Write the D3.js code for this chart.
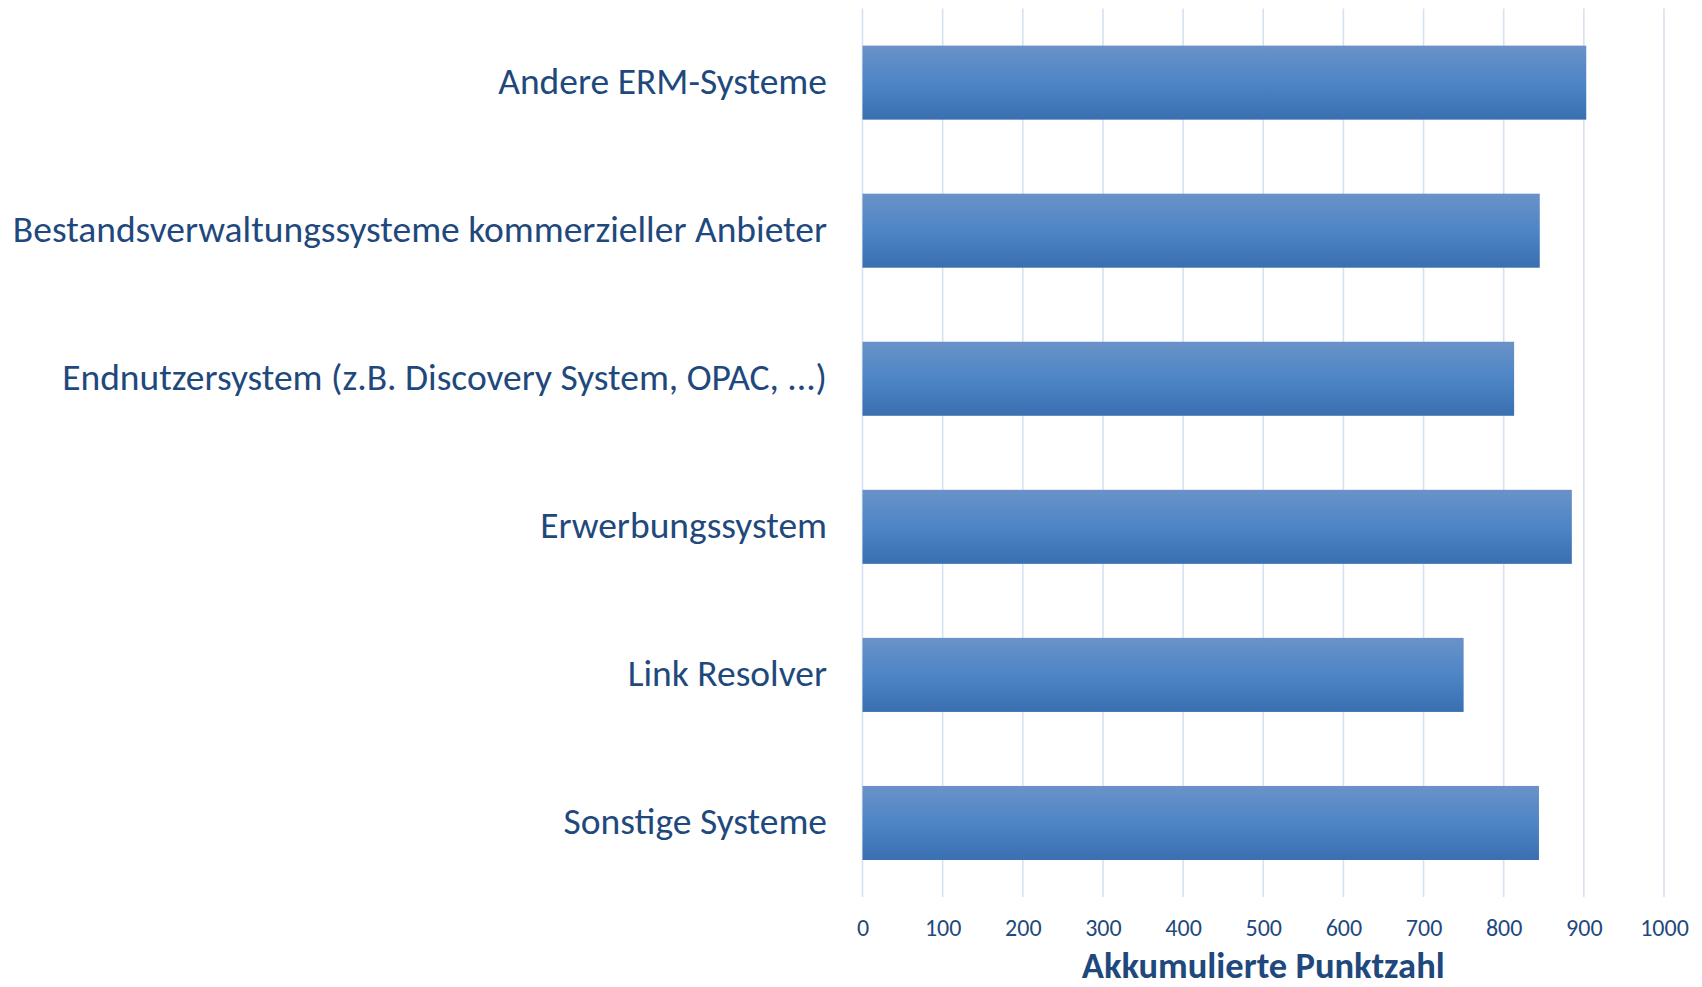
<!DOCTYPE html>
<html>
<head>
<meta charset="utf-8">
<script src="https://cdn.jsdelivr.net/npm/d3@7/dist/d3.min.js"></script>
<style>
  html, body { margin: 0; padding: 0; background: #ffffff; }
  svg { display: block; }
</style>
</head>
<body>
<svg id="chart" width="1702" height="987"></svg>
<script>
const categories = [
  "Andere ERM-Systeme",
  "Bestandsverwaltungssysteme kommerzieller Anbieter",
  "Endnutzersystem (z.B. Discovery System, OPAC, ...)",
  "Erwerbungssystem",
  "Link Resolver",
  "Sonstige Systeme"
];
const values = [903, 845, 813, 885, 750, 844];
const tickValues = [0, 100, 200, 300, 400, 500, 600, 700, 800, 900, 1000];
const axisTitle = "Akkumulierte Punktzahl";

const svg = d3.select("#chart");
const textColor = "#1f497d";
const fontFamily = "Carlito, 'Open Sans', sans-serif";

const x = d3.scaleLinear().domain([0, 1000]).range([862.5, 1664]);
const y = d3.scaleBand().domain(categories).range([8.6, 897]).paddingInner(0.5).paddingOuter(0.25);

const defs = svg.append("defs");
const grad = defs.append("linearGradient").attr("id", "barGrad")
  .attr("x1", 0).attr("y1", 0).attr("x2", 0).attr("y2", 1);
grad.append("stop").attr("offset", "0%").attr("stop-color", "#6a92c8");
grad.append("stop").attr("offset", "50%").attr("stop-color", "#4d85c5");
grad.append("stop").attr("offset", "100%").attr("stop-color", "#3a6fb0");

// gridlines
svg.append("g").selectAll("line").data(tickValues).join("line")
  .attr("x1", d => x(d)).attr("x2", d => x(d))
  .attr("y1", 8.6).attr("y2", 897)
  .attr("stroke", "#d5e2f2").attr("stroke-width", 1.6);

// bars
svg.append("g").selectAll("rect").data(values).join("rect")
  .attr("x", x(0))
  .attr("y", (d, i) => y(categories[i]))
  .attr("width", d => x(d) - x(0))
  .attr("height", y.bandwidth())
  .attr("fill", "url(#barGrad)");

// category labels
svg.append("g").selectAll("text").data(categories).join("text")
  .attr("x", 827)
  .attr("y", d => y(d) + y.bandwidth() / 2)
  .attr("dy", "0.29em")
  .attr("text-anchor", "end")
  .attr("fill", textColor)
  .attr("font-family", fontFamily)
  .attr("font-size", 37.5)
  .text(d => d);

// x axis tick labels
const xAxis = d3.axisBottom(x).tickValues(tickValues).tickFormat(d3.format("d")).tickSize(0).tickPadding(0);
const ax = svg.append("g").attr("transform", "translate(0,928)").call(xAxis);
ax.select(".domain").remove();
ax.selectAll("text")
  .attr("fill", textColor)
  .attr("font-family", fontFamily)
  .attr("font-size", 24)
  .attr("dy", "0.32em");

// axis title
svg.append("text")
  .attr("x", (x(0) + x(1000)) / 2)
  .attr("y", 978)
  .attr("text-anchor", "middle")
  .attr("fill", textColor)
  .attr("font-family", fontFamily)
  .attr("font-weight", "bold")
  .attr("font-size", 36.5)
  .text(axisTitle);
</script>
</body>
</html>
